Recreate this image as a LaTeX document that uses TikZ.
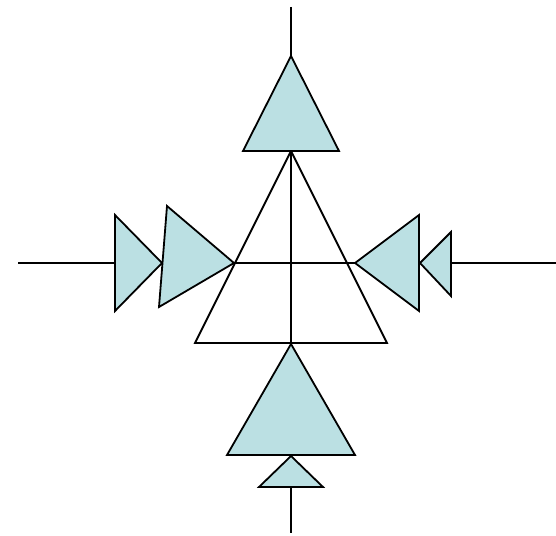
\documentclass[tikz,border=0pt]{standalone}
\usepackage{tikz}
\definecolor{tricol}{RGB}{187,224,227}

\begin{document}
\begin{tikzpicture}[
  x=1pt, y=-1pt,
  line/.style={line width=1.8pt},
  tri/.style={draw, fill=tricol, line width=1.8pt, line join=miter},
  frame/.style={draw, line width=1.8pt, line join=miter}
]
\useasboundingbox (0,0) rectangle (556,535);

% Axes
\coordinate (top) at (291,7);
\coordinate (bot) at (291,533);
\coordinate (lft) at (18,263);
\coordinate (rgt) at (556,263);
\draw[line] (top) -- (bot);
\draw[line] (lft) -- (rgt);

% Central open triangle
\draw[frame] (291,151) -- (195,343) -- (387,343) -- cycle;

% Top and bottom triangles
\draw[tri] (291,56) -- (243,151) -- (339,151) -- cycle;
\draw[tri] (291,344) -- (227,455) -- (355,455) -- cycle;
\draw[tri] (291,456) -- (259,487) -- (323,487) -- cycle;

% Left triangles
\draw[tri] (115,215) -- (115,311) -- (162,263) -- cycle;
\draw[tri] (167,206) -- (159,307) -- (234,263) -- cycle;

% Right triangles
\draw[tri] (419,215) -- (419,311) -- (355,263) -- cycle;
\draw[tri] (451,232) -- (451,296) -- (420,263) -- cycle;

\end{tikzpicture}
\end{document}
